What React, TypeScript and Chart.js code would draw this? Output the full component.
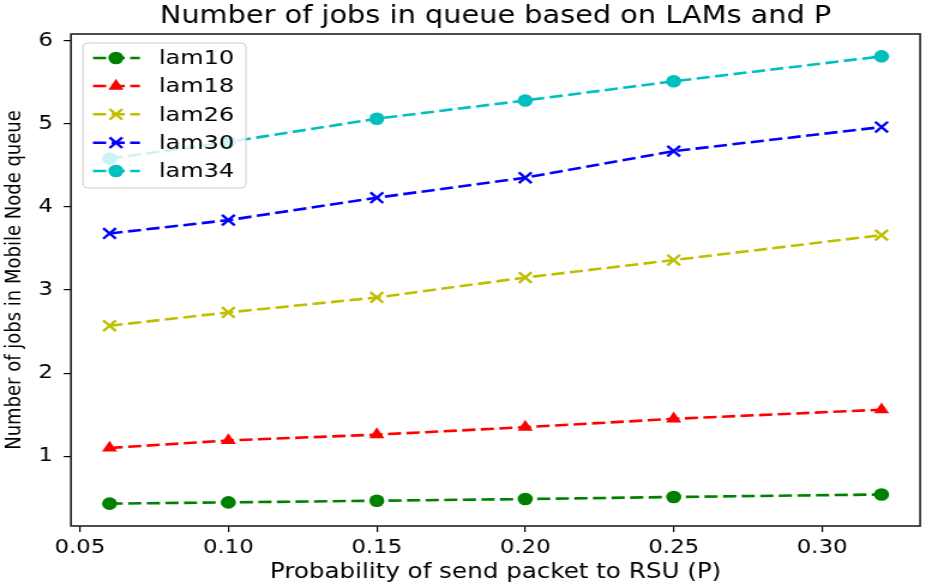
import React, { useEffect, useRef } from "react";
import { Chart, registerables } from "chart.js";

Chart.register(...registerables);

// ---- data ----
const P_VALUES = [0.06, 0.1, 0.15, 0.2, 0.25, 0.32];
const LAM10 = [0.43, 0.445, 0.465, 0.485, 0.51, 0.54];
const LAM18 = [1.1, 1.19, 1.26, 1.35, 1.45, 1.56];
const LAM26 = [2.57, 2.73, 2.91, 3.15, 3.36, 3.66];
const LAM30 = [3.68, 3.84, 4.11, 4.35, 4.67, 4.96];
const LAM34 = [4.58, 4.78, 5.06, 5.28, 5.51, 5.81];

const SERIES_NAMES = ["lam10", "lam18", "lam26", "lam30", "lam34"];
const SERIES_VALUES = [LAM10, LAM18, LAM26, LAM30, LAM34];
const SERIES_COLORS = ["#008000", "#ff0000", "#bfbf00", "#0000ff", "#00bfbf"];
const SERIES_MARKERS = ["circle", "triangle", "crossRot", "crossRot", "circle"];

const X_TICKS = [0.05, 0.1, 0.15, 0.2, 0.25, 0.3];
const Y_TICKS = [1, 2, 3, 4, 5, 6];
const X_MIN = 0.047;
const X_MAX = 0.333;
const Y_MIN = 0.161;
const Y_MAX = 6.079;

const TITLE = "Number of jobs in queue based on LAMs and P";
const X_LABEL = "Probability of send packet to RSU (P)";
const Y_LABEL = "Number of jobs in Mobile Node queue";

// ---- layout ----
const W = 932;
const H = 587;
const STRETCH = 1.2;
const LW = Math.round(W / STRETCH);
const PLOT_LEFT = 71 / STRETCH;
const PLOT_RIGHT = 927 / STRETCH;
const FONT = "DejaVu Sans";
const DASH = [11, 4.5];

function markerRadius(m: string) {
  if (m === "circle") return 6.3;
  if (m === "triangle") return 7.3;
  return 7.5;
}

function drawMarker(ctx: CanvasRenderingContext2D, m: string, x: number, y: number, r: number, color: string) {
  ctx.save();
  ctx.setLineDash([]);
  ctx.fillStyle = color;
  ctx.strokeStyle = color;
  ctx.beginPath();
  if (m === "circle") {
    ctx.arc(x, y, r, 0, Math.PI * 2);
    ctx.fill();
  } else if (m === "triangle") {
    let a = 0;
    ctx.moveTo(x + Math.sin(a) * r, y - Math.cos(a) * r);
    a += (2 * Math.PI) / 3;
    ctx.lineTo(x + Math.sin(a) * r, y - Math.cos(a) * r);
    a += (2 * Math.PI) / 3;
    ctx.lineTo(x + Math.sin(a) * r, y - Math.cos(a) * r);
    ctx.closePath();
    ctx.fill();
  } else {
    const d = r * Math.SQRT1_2;
    ctx.lineWidth = 2.4;
    ctx.moveTo(x - d, y - d);
    ctx.lineTo(x + d, y + d);
    ctx.moveTo(x - d, y + d);
    ctx.lineTo(x + d, y - d);
    ctx.stroke();
  }
  ctx.restore();
}

const framePlugin = {
  id: "frameAndLegend",
  afterDatasetsDraw(chart: any) {
    const ctx: CanvasRenderingContext2D = chart.ctx;
    const a = chart.chartArea;
    ctx.save();
    ctx.strokeStyle = "#222";
    ctx.lineWidth = 1.6;
    ctx.setLineDash([]);
    ctx.strokeRect(a.left, a.top, a.right - a.left, a.bottom - a.top);

    // legend box
    const bx = 83 / STRETCH;
    const bx2 = 246 / STRETCH;
    const by = 43;
    const by2 = 188;
    const rr = 4;
    ctx.beginPath();
    ctx.moveTo(bx + rr, by);
    ctx.lineTo(bx2 - rr, by);
    ctx.quadraticCurveTo(bx2, by, bx2, by + rr);
    ctx.lineTo(bx2, by2 - rr);
    ctx.quadraticCurveTo(bx2, by2, bx2 - rr, by2);
    ctx.lineTo(bx + rr, by2);
    ctx.quadraticCurveTo(bx, by2, bx, by2 - rr);
    ctx.lineTo(bx, by + rr);
    ctx.quadraticCurveTo(bx, by, bx + rr, by);
    ctx.closePath();
    ctx.fillStyle = "rgba(255,255,255,0.8)";
    ctx.fill();
    ctx.strokeStyle = "#cccccc";
    ctx.lineWidth = 1;
    ctx.stroke();

    const rowY = [58, 86, 114.3, 142.7, 171];
    const lx0 = 93 / STRETCH;
    const lx1 = 140 / STRETCH;
    const mx = 116 / STRETCH;
    const tx = 159 / STRETCH;
    SERIES_NAMES.forEach((name, i) => {
      const y = rowY[i];
      const c = SERIES_COLORS[i];
      ctx.save();
      ctx.strokeStyle = c;
      ctx.lineWidth = 2.6;
      ctx.setLineDash(DASH);
      ctx.beginPath();
      ctx.moveTo(lx0, y);
      ctx.lineTo(lx1, y);
      ctx.stroke();
      ctx.restore();
      drawMarker(ctx, SERIES_MARKERS[i], mx, y, markerRadius(SERIES_MARKERS[i]), c);
      ctx.fillStyle = "#000";
      ctx.font = `20px "${FONT}"`;
      ctx.textBaseline = "middle";
      ctx.textAlign = "left";
      ctx.fillText(name, tx, y + 1);
    });
    ctx.restore();
  },
};

export default function App() {
  const ref = useRef<HTMLCanvasElement | null>(null);

  useEffect(() => {
    if (!ref.current) return;
    document.body.style.margin = "0";
    const datasets = SERIES_NAMES.map((name, i) => {
      const m = SERIES_MARKERS[i];
      const c = SERIES_COLORS[i];
      return {
        label: name,
        data: P_VALUES.map((x, j) => ({ x, y: SERIES_VALUES[i][j] })),
        borderColor: c,
        backgroundColor: c,
        borderWidth: 2.6,
        borderDash: DASH,
        segment: { borderDash: () => DASH },
        pointStyle: m,
        pointRadius: markerRadius(m),
        pointHoverRadius: markerRadius(m),
        pointBackgroundColor: c,
        pointBorderColor: c,
        pointBorderWidth: m === "crossRot" ? 2.4 : 0,
        tension: 0,
        fill: false,
      };
    });

    const tickGrid = {
      display: true,
      drawOnChartArea: false,
      drawTicks: true,
      tickLength: 6,
      color: "#000",
      lineWidth: 1.2,
    };

    const chart = new Chart(ref.current, {
      type: "line",
      data: { datasets } as any,
      options: {
        animation: false,
        responsive: false,
        devicePixelRatio: 1,
        layout: { padding: { left: 0, right: LW - PLOT_RIGHT, top: 0, bottom: 0 } },
        plugins: {
          legend: { display: false },
          tooltip: { enabled: false },
          title: {
            display: true,
            text: TITLE,
            color: "#000",
            fullSize: false,
            font: { family: FONT, size: 24, weight: "normal" },
            padding: { top: 2, bottom: 3.2 },
          },
        },
        scales: {
          x: {
            type: "linear",
            min: X_MIN,
            max: X_MAX,
            afterBuildTicks: (s: any) => {
              s.ticks = X_TICKS.map((v) => ({ value: v }));
            },
            afterFit: (s: any) => {
              s.height = 61;
            },
            ticks: {
              callback: (v: any) => Number(v).toFixed(2),
              color: "#000",
              font: { family: FONT, size: 19 },
              padding: 5,
              maxRotation: 0,
              autoSkip: false,
            },
            grid: tickGrid,
            border: { display: false },
            title: {
              display: true,
              text: X_LABEL,
              color: "#000",
              font: { family: FONT, size: 20.5 },
              padding: { top: 0, bottom: 2.5 },
            },
          },
          y: {
            type: "linear",
            min: Y_MIN,
            max: Y_MAX,
            afterBuildTicks: (s: any) => {
              s.ticks = Y_TICKS.map((v) => ({ value: v }));
            },
            afterFit: (s: any) => {
              s.width = PLOT_LEFT;
            },
            ticks: {
              callback: (v: any) => String(v),
              color: "#000",
              font: { family: FONT, size: 19 },
              padding: 9,
              autoSkip: false,
            },
            grid: tickGrid,
            border: { display: false },
            title: {
              display: true,
              text: Y_LABEL,
              color: "#000",
              font: { family: FONT, size: 18 },
              padding: { top: 1.2, bottom: 0 },
            },
          },
        },
      } as any,
      plugins: [framePlugin],
    });
    return () => chart.destroy();
  }, []);

  return (
    <div style={{ position: "fixed", left: 0, top: 0, width: W, height: H, background: "#fff" }}>
      <canvas ref={ref} width={LW} height={H} style={{ width: `${W}px`, height: `${H}px`, display: "block" }} />
    </div>
  );
}
